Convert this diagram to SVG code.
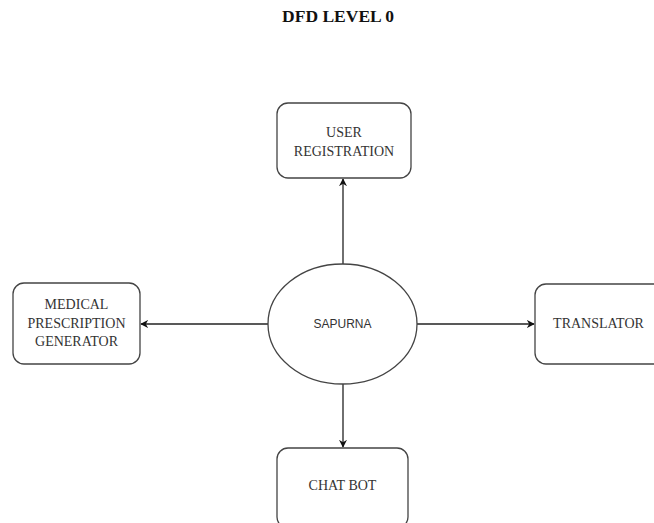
<svg xmlns="http://www.w3.org/2000/svg" width="654" height="523" viewBox="0 0 654 523">
<style>
.box{fill:#fff;stroke:#444;stroke-width:1.3}
.lbl{font-family:"Liberation Serif","Times New Roman",serif;font-size:14px;fill:#333;text-anchor:middle}
.conn{stroke:#222;stroke-width:1.3;fill:none;marker-end:url(#arr)}
</style>
<defs>
<marker id="arr" viewBox="0 0 10 10" refX="9" refY="5" markerWidth="8" markerHeight="8" markerUnits="userSpaceOnUse" orient="auto">
<path d="M0,0 L10,5 L0,10 L3,5 Z" fill="#111"/>
</marker>
</defs>
<rect width="654" height="523" fill="#fff"/>
<text x="338" y="22" font-family="Liberation Serif,'Times New Roman',serif" font-weight="bold" font-size="17.5px" text-anchor="middle" fill="#111">DFD LEVEL 0</text>
<g id="connectors">
<line class="conn" x1="343" y1="264" x2="343" y2="179"/>
<line class="conn" x1="268" y1="324" x2="141" y2="324"/>
<line class="conn" x1="417" y1="324" x2="534" y2="324"/>
<line class="conn" x1="343" y1="384" x2="343" y2="447"/>
</g>
<g id="sapurna">
<ellipse cx="342.5" cy="324" rx="74.5" ry="60" class="box"/>
<text x="342.5" y="328" font-family="Liberation Sans,Arial,sans-serif" font-size="12px" text-anchor="middle" fill="#333">SAPURNA</text>
</g>
<g id="user-registration">
<rect x="277" y="103" width="134" height="75" rx="11" class="box"/>
<text class="lbl" x="344" y="137">USER</text>
<text class="lbl" x="344" y="155.5">REGISTRATION</text>
</g>
<g id="medical-prescription-generator">
<rect x="13" y="283" width="127" height="81" rx="11" class="box"/>
<text class="lbl" x="76.5" y="309">MEDICAL</text>
<text class="lbl" x="76.5" y="327.5">PRESCRIPTION</text>
<text class="lbl" x="76.5" y="346">GENERATOR</text>
</g>
<g id="translator">
<rect x="535" y="284" width="130" height="80" rx="11" class="box"/>
<text class="lbl" x="598.5" y="328">TRANSLATOR</text>
</g>
<g id="chat-bot">
<rect x="277" y="448" width="131" height="80" rx="11" class="box"/>
<text class="lbl" x="342.5" y="490">CHAT BOT</text>
</g>
</svg>
